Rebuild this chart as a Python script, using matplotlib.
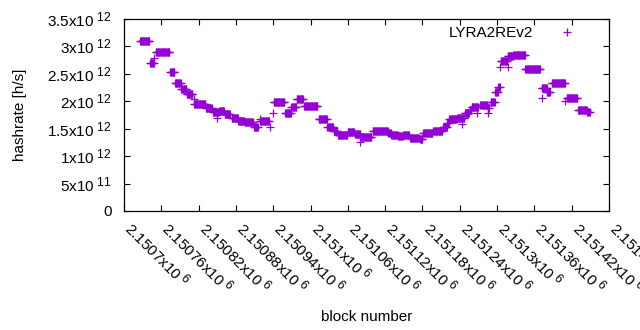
import numpy as np
import matplotlib
matplotlib.use("Agg")
import matplotlib.pyplot as plt
import matplotlib._mathtext as mathtext_internal
from matplotlib.ticker import MultipleLocator, FuncFormatter
from matplotlib.transforms import ScaledTranslation

plt.rcParams['font.family'] = ['Liberation Sans', 'DejaVu Sans']
plt.rcParams['font.size'] = 11
plt.rcParams['mathtext.fontset'] = 'custom'
plt.rcParams['mathtext.rm'] = 'Liberation Sans'
plt.rcParams['mathtext.it'] = 'Liberation Sans'
plt.rcParams['mathtext.bf'] = 'Liberation Sans'
# gnuplot superscripts are only a little smaller than the base text
mathtext_internal.SHRINK_FACTOR = 0.8

# first block of the x range
block0 = 2150700

# runs of blocks with the same hashrate (offsets from block0, value in 1e12 h/s)
run_first = [26, 42, 49, 51, 74, 82, 92, 101, 112, 113, 132, 143, 150, 153, 162,
             173, 184, 194, 209, 218, 219, 235, 239, 241, 259, 269, 278, 290, 313,
             327, 337, 344, 360, 371, 380, 381, 400, 425, 430, 441, 449, 460, 476,
             481, 497, 513, 520, 523, 536, 543, 548, 556, 559, 568, 573, 585, 585,
             590, 597, 602, 605, 606, 617, 617, 626, 645, 672, 672, 680, 688, 709,
             712, 730, 745]
run_last = [41, 48, 49, 73, 81, 91, 100, 110, 112, 131, 141, 152, 150, 161, 170,
            183, 193, 207, 215, 218, 233, 235, 239, 258, 268, 277, 288, 311, 326,
            336, 343, 359, 370, 380, 380, 398, 424, 429, 440, 448, 458, 474, 480,
            496, 512, 519, 522, 535, 547, 543, 555, 558, 569, 568, 584, 587, 585,
            596, 601, 604, 605, 616, 617, 626, 645, 669, 672, 680, 685, 709, 709,
            729, 744, 749]
run_hashrate = [3.085, 2.70, 2.79, 2.885, 2.52, 2.32, 2.21, 2.13, 2.03, 1.94, 1.87,
                1.805, 1.70, 1.81, 1.76, 1.685, 1.63, 1.61, 1.53, 1.67, 1.64, 1.52,
                1.79, 1.99, 1.78, 1.885, 2.04, 1.90, 1.67, 1.53, 1.45, 1.39, 1.43,
                1.395, 1.26, 1.34, 1.45, 1.41, 1.38, 1.365, 1.38, 1.32, 1.31, 1.41,
                1.455, 1.52, 1.605, 1.67, 1.685, 1.59, 1.78, 1.835, 1.885, 1.78,
                1.93, 1.87, 1.79, 1.99, 2.17, 2.25, 2.61, 2.73, 2.61, 2.81, 2.84,
                2.575, 2.05, 2.23, 2.17, 2.32, 2.005, 2.05, 1.835, 1.795]

blocks = []
hashrate = []
for a, b, v in zip(run_first, run_last, run_hashrate):
    for n in range(a, b + 1):
        blocks.append(block0 + n)
        hashrate.append(v * 1e12)


def gp_format(v, pos=None):
    # gnuplot style "mantissa x10^exp"
    if v == 0:
        return "0"
    e = int(np.floor(np.log10(abs(v)) + 1e-9))
    m = v / 10 ** e
    return "%gx10$^{\\ %d}$" % (round(m, 6), e)


fig = plt.figure(figsize=(6.4, 3.3), dpi=100)
ax = fig.add_axes([124 / 640, 1 - 211 / 330, (609 - 124) / 640, (211 - 18.5) / 330])

ax.plot(blocks, hashrate, linestyle='none', marker='+', markersize=5.2,
        markeredgewidth=0.9, color='#9400d3', label='LYRA2REv2')

ax.set_xlim(block0, block0 + 780)
ax.set_ylim(0, 3.5e12)

xt = np.arange(block0, block0 + 781, 60)
ax.set_xticks(xt, [gp_format(t) for t in xt], rotation=-45, ha='left', va='center',
              rotation_mode='anchor')
ax.yaxis.set_major_locator(MultipleLocator(5e11))
ax.yaxis.set_major_formatter(FuncFormatter(gp_format))

ax.tick_params(direction='in', top=True, right=True, length=4.5, width=0.8)
ax.tick_params(axis='y', pad=9)
ax.tick_params(axis='x', pad=10)
for lbl in ax.get_xticklabels():
    lbl.set_transform(lbl.get_transform() + ScaledTranslation(4 / 100, 0, fig.dpi_scale_trans))

for s in ax.spines.values():
    s.set_linewidth(0.9)

ax.set_xlabel('block number')
ax.xaxis.set_label_coords(0.5, -0.515)
ax.set_ylabel('hashrate [h/s]')
ax.yaxis.set_label_coords(-0.2, 0.5)

ax.legend(loc='upper right', frameon=False, markerfirst=False, handlelength=2,
          handletextpad=1.22, borderaxespad=0, borderpad=0,
          bbox_to_anchor=(582 / 640, 1 - 26 / 330), bbox_transform=fig.transFigure)

fig.savefig('out.png', dpi=100)
